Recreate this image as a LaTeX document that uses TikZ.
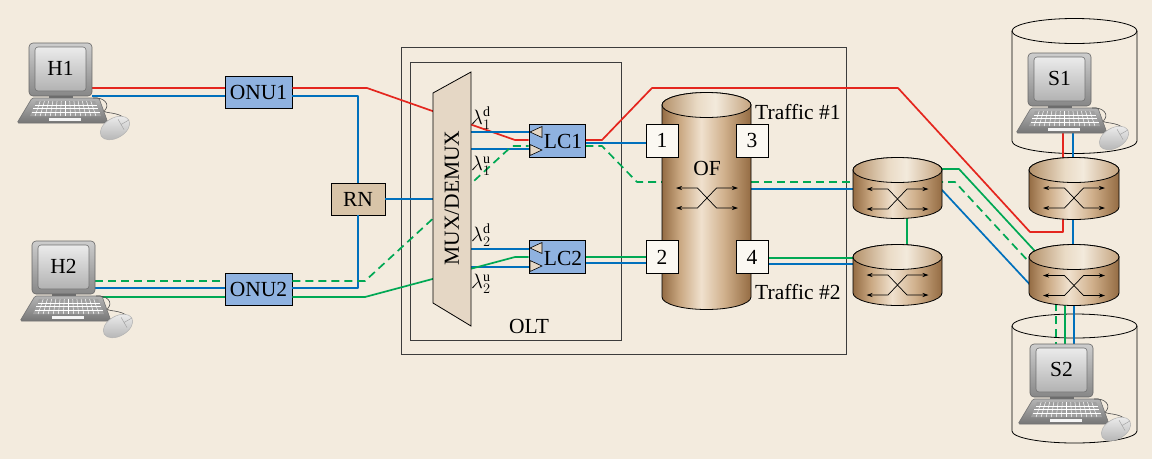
\documentclass[tikz,border=0pt]{standalone}
\usepackage{fontspec}
\setmainfont{Liberation Serif}
\usetikzlibrary{arrows.meta,calc}

% palette
\definecolor{bg}{RGB}{243,235,222}
\definecolor{lred}{RGB}{228,38,30}
\definecolor{lblue}{RGB}{0,112,188}
\definecolor{lgreen}{RGB}{0,168,84}
\definecolor{lcblue}{RGB}{143,178,224}
\definecolor{rntan}{RGB}{216,196,168}
\definecolor{muxtan}{RGB}{229,215,197}
\definecolor{portw}{RGB}{251,248,242}
\definecolor{framegray}{RGB}{60,60,60}
\definecolor{monA}{RGB}{205,205,205}
\definecolor{monB}{RGB}{135,135,135}
\definecolor{scrA}{RGB}{235,235,235}
\definecolor{scrB}{RGB}{178,178,178}
\definecolor{kbA}{RGB}{180,180,180}
\definecolor{kbB}{RGB}{118,118,118}
\definecolor{keyfill}{RGB}{160,160,160}
\definecolor{mouseA}{RGB}{238,238,238}
\definecolor{mouseB}{RGB}{180,180,180}
\definecolor{brA}{RGB}{148,108,68}
\definecolor{brB}{RGB}{202,168,130}
\definecolor{brC}{RGB}{240,225,206}
\definecolor{brD}{RGB}{208,176,140}
\definecolor{brE}{RGB}{168,130,90}
\definecolor{tpA}{RGB}{180,145,106}
\definecolor{tpB}{RGB}{234,219,198}
\definecolor{tpC}{RGB}{243,234,220}
\definecolor{tpD}{RGB}{196,163,126}

% shadings for the brown drums (central 25bp..75bp spans the path)
\pgfdeclarehorizontalshading{drumbody}{100bp}{color(0bp)=(brA); color(25bp)=(brA); color(35bp)=(brB); color(47bp)=(brC); color(60bp)=(brD); color(70bp)=(brE); color(75bp)=(brA); color(100bp)=(brA)}
\pgfdeclarehorizontalshading{drumtop}{100bp}{color(0bp)=(tpA); color(25bp)=(tpA); color(45bp)=(tpB); color(55bp)=(tpC); color(75bp)=(tpD); color(100bp)=(tpD)}

\newcommand\lblfont{\fontsize{21.5}{24}\selectfont}
\newcommand\lamfont{\fontsize{20}{22}\selectfont}

% shaded drum: centre x, top centre y, x radius, y radius, height
\newcommand\drum[5]{%
  \shadedraw[shading=drumbody, line width=0.8pt]
    (#1-#3,#2) -- (#1-#3,#2+#5)
    arc[start angle=180, end angle=360, x radius=#3pt, y radius=#4pt]
    -- (#1+#3,#2)
    arc[start angle=0, end angle=180, x radius=#3pt, y radius=#4pt] -- cycle;
  \shadedraw[shading=drumtop, line width=0.8pt] (#1,#2) ellipse[x radius=#3pt, y radius=#4pt];
}
% open outline jar around a server
\newcommand\jar[5]{%
  \draw[line width=0.8pt]
    (#1-#3,#2) -- (#1-#3,#2+#5)
    arc[start angle=180, end angle=360, x radius=#3pt, y radius=#4pt]
    -- (#1+#3,#2);
  \draw[line width=0.8pt] (#1,#2) ellipse[x radius=#3pt, y radius=#4pt];
}

\tikzset{
  link/.style={line width=1.7pt, line join=round},
  redl/.style={link, draw=lred},
  bluel/.style={link, draw=lblue},
  greenl/.style={link, draw=lgreen},
  dashl/.style={link, draw=lgreen, dash pattern=on 8pt off 5pt},
  box/.style={draw=black, line width=0.8pt, inner sep=0pt, font=\lblfont},
  onubox/.style={box, fill=lcblue, minimum width=67pt, minimum height=32pt},
  lcbox/.style={box, fill=lcblue, minimum width=56pt, minimum height=33pt},
  rnbox/.style={box, fill=rntan, minimum width=54pt, minimum height=32pt},
  portbox/.style={box, fill=portw, minimum width=32pt, minimum height=33pt},
  lbl/.style={font=\lblfont, inner sep=0pt},
  laml/.style={font=\lamfont, inner sep=0pt, anchor=west},
  xarrow/.style={line width=0.7pt, arrows={Stealth[length=6pt,width=4pt]-Stealth[length=6pt,width=4pt]}},
  tri/.style={draw=black, fill=muxtan, line width=0.6pt},
  pics/swx/.style={code={
    \draw[xarrow] (-31,-10) -- (-9.5,-10) -- (9.5,10) -- (31,10);
    \draw[xarrow] (-31,10) -- (-9.5,10) -- (9.5,-10) -- (31,-10);
  }},
  pics/computer/.style={code={
    % monitor
    \draw[draw=black!60, top color=monA, bottom color=monB, rounded corners=4pt, line width=0.6pt] (0,0) rectangle (63,53);
    \draw[draw=black!55, top color=scrA, bottom color=scrB, rounded corners=3pt, line width=0.6pt] (6,4) rectangle (57,48);
    \node[lbl] (-name) at (31.5,25) {#1};
    \fill[monB!80!black] (20,53) rectangle (44,56);
    % keyboard
    \draw[draw=black!55, top color=kbA, bottom color=kbB, rounded corners=1.5pt, line width=0.6pt]
      (3,55) -- (70,55) -- (79,80) -- (-12,80) -- cycle;
    \fill[keyfill] (7,58) -- (66,58) -- (72,73) -- (1,73) -- cycle;
    \foreach \t in {0.25,0.5,0.75}
      \draw[white, line width=0.5pt] ($(7,58)!\t!(1,73)$) -- ($(66,58)!\t!(72,73)$);
    \foreach \s in {1,...,13}
      \draw[white, line width=0.5pt] ($(7,58)!\s/14!(66,58)$) -- ($(1,73)!\s/14!(72,73)$);
    \fill[white!92!gray] (20,75) rectangle (52,77.5);
    % cable
    \draw[black!70, line width=0.6pt] (64,55) .. controls (76,54) and (81,62) .. (76,67)
      .. controls (72,71) and (90,68) .. (96,76);
    % mouse
    \draw[draw=black!30, top color=mouseA, bottom color=mouseB, line width=0.5pt,
      rotate around={30:(86,85)}] (86,85) ellipse[x radius=16pt, y radius=10pt];
    \draw[black!35, line width=0.5pt, rotate around={30:(86,85)}] (93,79) -- (93,91) (93,85) -- (102,85);
  }}
}

\begin{document}
\begin{tikzpicture}[x=1pt, y=-1pt]
\useasboundingbox (0,0) rectangle (1152,459);
\fill[bg] (0,0) rectangle (1152,459);

% OLT frames
\draw[framegray, line width=0.8pt] (401,47) rectangle (846,354);
\draw[framegray, line width=0.8pt] (410,62) rectangle (621,340);

% server jars
\jar{1074.5}{31}{62.5}{12.5}{110}
\jar{1074.5}{326}{62.5}{12}{105}

% node boxes placed first so that links can refer to them
\path (258.5,92)  node[onubox] (onu1) {ONU1};
\path (258.5,289) node[onubox] (onu2) {ONU2};
\path (358,199)   node[rnbox]  (rn)   {RN};
\path (557,140.5) node[lcbox]  (lc1)  {};
\path (557,257)   node[lcbox]  (lc2)  {};

% ---- links ----
% red: H1 -> S1
\draw[redl] (92,88) -- (onu1.west |- 0,88);
\draw[redl] (onu1.east |- 0,88) -- (367,88) -- (515,140) -- (lc1.west |- 0,140);
\draw[redl] (lc1.east |- 0,140) -- (602,140) -- (652,88) -- (898,88) -- (1030,232) -- (1063,232) -- (1063,200);
\draw[redl] (1063,175) -- (1063,133);
% blue: feeder tree and upstream paths
\draw[bluel] (92,96) -- (onu1.west |- 0,96);
\draw[bluel] (onu1.east |- 0,96) -- (358,96) -- (rn.north);
\draw[bluel] (rn.south) -- (358,288) -- (onu2.east |- 0,288);
\draw[bluel] (onu2.west |- 0,288) -- (95,288);
\draw[bluel] (rn.east) -- (440,199);
\draw[bluel] (471,132) -- (lc1.west |- 0,132);
\draw[bluel] (471,149) -- (lc1.west |- 0,149);
\draw[bluel] (471,249) -- (lc2.west |- 0,249);
\draw[bluel] (471,267) -- (lc2.west |- 0,267);
\draw[bluel] (lc1.east |- 0,143) -- (646,143);
\draw[bluel] (lc2.east |- 0,263) -- (646,263);
\draw[bluel] (720,189) -- (860,189);
\draw[bluel] (768,264) -- (860,264);
\draw[bluel] (935,190) -- (942,190) -- (1035,290);
\draw[bluel] (1073,133) -- (1073,180);
\draw[bluel] (1073,200) -- (1073,270);
\draw[bluel] (1074,290) -- (1074,350);
% green: H2 -> S2
\draw[greenl] (95,297) -- (onu2.west |- 0,297);
\draw[greenl] (onu2.east |- 0,297) -- (365,297) -- (515,257) -- (lc2.west |- 0,257);
\draw[greenl] (lc2.east |- 0,257) -- (646,257);
\draw[greenl] (768,258) -- (860,258);
\draw[greenl] (907,200) -- (907,265);
\draw[greenl] (935,169) -- (959,169) -- (1045,262);
\draw[greenl] (1065,290) -- (1065,350);
% green dashed: H2 -> S2 via OF
\draw[dashl] (95,281) -- (onu2.west |- 0,281);
\draw[dashl] (onu2.east |- 0,281) -- (365,281) -- (512,146) -- (lc1.west |- 0,146);
\draw[dashl] (lc1.east |- 0,146) -- (602,146) -- (637,182) -- (700,182);
\draw[dashl] (751,182) -- (860,182);
\draw[dashl] (935,182) -- (955,182) -- (1042,276);
\draw[dashl] (1056,290) -- (1056,350);

% ---- devices on top of links ----
% MUX/DEMUX
\draw[fill=muxtan, line width=0.8pt] (433,93) -- (471,72) -- (471,326) -- (433,303) -- cycle;
\node[lbl, rotate=90] (muxlbl) at (452,198) {MUX/DEMUX};
\node[laml] (l1d) at (471,118) {$\lambda_1^{\mathrm{d}}$};
\node[laml] (l1u) at (471,166) {$\lambda_1^{\mathrm{u}}$};
\node[laml] (l2d) at (471,235) {$\lambda_2^{\mathrm{d}}$};
\node[laml] (l2u) at (471,284) {$\lambda_2^{\mathrm{u}}$};

% line cards redrawn over their links, with port triangles and labels
\node[lcbox] (lc1b) at (lc1) {};
\node[lcbox] (lc2b) at (lc2) {};
\draw[tri] (530,132) -- (542,126.5) -- (542,137.5) -- cycle;
\draw[tri] (530,144.5) -- (542,150) -- (530,155.5) -- cycle;
\draw[tri] (530,248) -- (542,242.5) -- (542,253.5) -- cycle;
\draw[tri] (530,260.5) -- (542,266) -- (530,271.5) -- cycle;
\node[lbl] (lc1lbl) at (563,141) {LC1};
\node[lbl] (lc2lbl) at (563,258) {LC2};
\node[lbl] (oltlbl) at (529,326) {OLT};

% optical fabric
\drum{706.5}{105}{44.5}{12.5}{192}
\node[lbl] (oflbl) at (707,168) {OF};
\pic (ofx) at (707,198) {swx};
\node[portbox] (p1) at (662,140.5) {1};
\node[portbox] (p3) at (752,140.5) {3};
\node[portbox] (p2) at (662,257) {2};
\node[portbox] (p4) at (752,257) {4};
\node[lbl, anchor=west] (t1) at (755,112) {Traffic \#1};
\node[lbl, anchor=west] (t2) at (755,292) {Traffic \#2};

% electronic switches
\drum{897.5}{170}{44.5}{12.5}{36}
\pic (swa) at (897.5,199) {swx};
\drum{897.5}{257}{44.5}{12.5}{36}
\pic (swb) at (897.5,285) {swx};
\drum{1074}{170}{45}{12.5}{37}
\pic (swd) at (1074,198) {swx};
\drum{1074}{257}{45}{12.5}{36}
\pic (swc) at (1074,285.5) {swx};

% hosts and servers
\pic (h1) at (29,43) {computer=H1};
\pic (h2) at (32,241) {computer=H2};
\pic (s1) at (1028,53) {computer=S1};
\pic (s2) at (1030,344) {computer=S2};
\end{tikzpicture}
\end{document}
